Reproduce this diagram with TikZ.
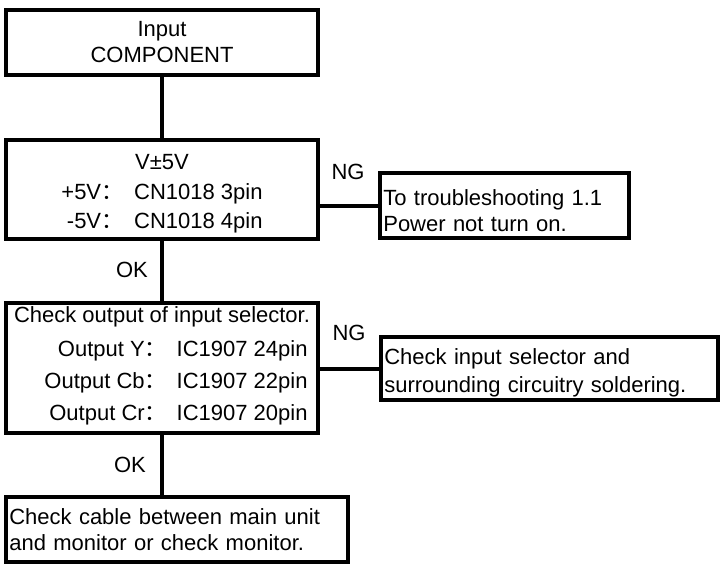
\documentclass[tikz,border=0pt]{standalone}
\usepackage{fontspec}
\setmainfont{Liberation Sans}
\newfontfamily\cjk{Noto Sans CJK SC}
\newcommand{\cln}{{\cjk ：}}

\begin{document}
\begin{tikzpicture}[x=0.75pt,y=-0.75pt,
    box/.style={draw, line width=3pt, inner xsep=2.5pt, inner ysep=0pt,
      font=\fontsize{16.5}{19.5}\selectfont},
    lbl/.style={font=\fontsize{16.5}{19.5}\selectfont},
    wire/.style={line width=3pt}]
    \useasboundingbox (0,0) rectangle (723,563);

    % main column
    \node[box, minimum width=234pt, minimum height=48.75pt, align=center] (input) at (162,42.5)
      {Input\\COMPONENT};
    \node[box, minimum width=234pt, minimum height=74.25pt, align=center] (volt) at (162,189.5)
      {\rule{0pt}{21pt}V±5V\\[3pt]\def\arraystretch{1.15}\begin{tabular}[t]{@{}r@{}l@{}}
        +5V\cln\hspace{0.5em} & CN1018 3pin\\
        -5V\cln\hspace{0.5em} & CN1018 4pin
      \end{tabular}};
    \node[box, minimum width=234pt, minimum height=97.5pt, align=center] (sel) at (162,368)
      {Check output of input selector.\\[5pt]\hspace*{21pt}\def\arraystretch{1.22}\begin{tabular}[t]{@{}r@{}l@{}}
        Output Y\cln\hspace{0.45em} & IC1907 24pin\\
        Output Cb\cln\hspace{0.45em} & IC1907 22pin\\
        Output Cr\cln\hspace{0.45em} & IC1907 20pin
      \end{tabular}};
    \node[box, text width=251.5pt, minimum height=48.75pt, align=left] (cable) at (177,529.5)
      {Check cable between main unit\\and monitor or check monitor.};

    % NG side
    \node[box, text width=181.75pt, minimum height=48.75pt, align=left] (power) at (504.5,205.5)
      {\rule{0pt}{19.5pt}To troubleshooting 1.1\\Power not turn on.};
    \node[box, text width=247.75pt, minimum height=47.25pt, align=left] (solder) at (549.5,368.5)
      {\rule{0pt}{18pt}Check input selector and\\[1.5pt]surrounding circuitry soldering.};

    \node[lbl] (ng1) at (348,172) {NG};
    \node[lbl] (ng2) at (349,333) {NG};
    \node[lbl] (ok1) at (132,270) {OK};
    \node[lbl] (ok2) at (130,465) {OK};

    \draw[wire] (input) -- (volt);
    \draw[wire] (volt) -- (sel);
    \draw[wire] (sel.south) -- (sel.south |- cable.north);
    \draw[wire] (power.west) -- (power.west -| volt.east);
    \draw[wire] (solder.west) -- (solder.west -| sel.east);
\end{tikzpicture}
\end{document}
